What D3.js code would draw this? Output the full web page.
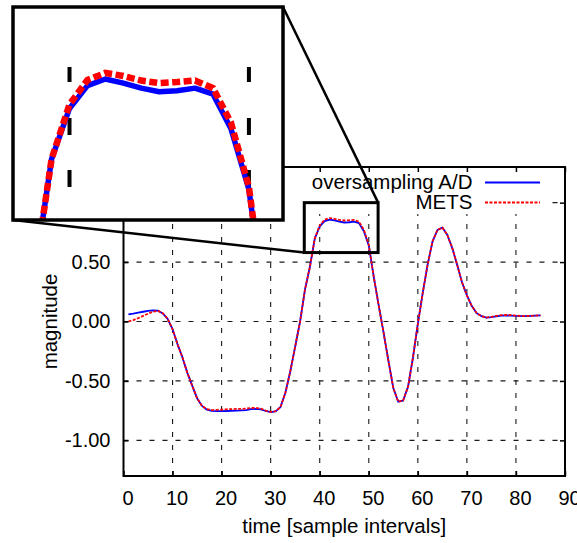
<!DOCTYPE html>
<html>
<head>
<meta charset="utf-8">
<script src="https://cdn.jsdelivr.net/npm/d3@7"></script>
<style>
  html, body { margin: 0; padding: 0; background: #fff; }
  svg { display: block; font-family: "Liberation Sans", Arial, Helvetica, sans-serif; }
</style>
</head>
<body>
<svg id="chart" width="577" height="543"></svg>
<script>
// ---- data ---------------------------------------------------------------
const samples = [
   1,  2,  3,  4,  5,  6,  7,  8,  9, 10, 11, 12, 13, 14, 15, 16, 17,
  18, 19, 20, 21, 22, 23, 24, 25, 26, 27, 28, 29, 30, 31, 32, 33, 34,
  35, 36, 37, 38, 39, 40, 41, 42, 43, 44, 45, 46, 47, 48, 49, 50, 51,
  52, 53, 54, 55, 56, 57, 58, 59, 60, 61, 62, 63, 64, 65, 66, 67, 68,
  69, 70, 71, 72, 73, 74, 75, 76, 77, 78, 79, 80, 81, 82, 83, 84, 85
];

// oversampling A/D reconstruction
const adc = [
  0.060, 0.066, 0.074, 0.082, 0.089, 0.094, 0.092, 0.068, 0.022, -0.065,
  -0.190, -0.300, -0.430, -0.540, -0.645, -0.710, -0.742, -0.752, -0.754, -0.754,
  -0.753, -0.752, -0.750, -0.748, -0.745, -0.738, -0.735, -0.740, -0.753, -0.763,
  -0.756, -0.720, -0.600, -0.420, -0.210, 0.000, 0.270, 0.460, 0.700, 0.800,
  0.845, 0.858, 0.850, 0.840, 0.833, 0.835, 0.840, 0.828, 0.760, 0.640,
  0.380, 0.140, -0.090, -0.330, -0.560, -0.675, -0.665, -0.550, -0.305, -0.020,
  0.240, 0.480, 0.675, 0.770, 0.790, 0.730, 0.620, 0.480, 0.330, 0.220,
  0.130, 0.070, 0.045, 0.032, 0.036, 0.044, 0.049, 0.051, 0.050, 0.047,
  0.045, 0.046, 0.048, 0.050, 0.052
];

// METS reconstruction
const mets = [
  0.000, 0.012, 0.028, 0.047, 0.066, 0.082, 0.090, 0.070, 0.023, -0.065,
  -0.190, -0.300, -0.430, -0.540, -0.645, -0.710, -0.738, -0.745, -0.743, -0.741,
  -0.739, -0.737, -0.736, -0.735, -0.733, -0.728, -0.726, -0.734, -0.750, -0.761,
  -0.755, -0.720, -0.600, -0.420, -0.210, 0.000, 0.270, 0.460, 0.700, 0.808,
  0.856, 0.870, 0.864, 0.855, 0.850, 0.852, 0.855, 0.840, 0.772, 0.645,
  0.380, 0.140, -0.090, -0.330, -0.560, -0.675, -0.665, -0.550, -0.305, -0.020,
  0.240, 0.480, 0.675, 0.770, 0.790, 0.730, 0.620, 0.480, 0.330, 0.220,
  0.130, 0.070, 0.045, 0.032, 0.039, 0.048, 0.053, 0.055, 0.054, 0.050,
  0.046, 0.046, 0.048, 0.050, 0.052
];

const seriesNames = ["oversampling A/D", "METS"];
const xTicks = [0, 10, 20, 30, 40, 50, 60, 70, 80, 90];
const yTicks = [-1.0, -0.5, 0.0, 0.5, 1.0];
const xDomain = [0, 90];
const yDomain = [-1.3, 1.3];
// magnified window
const zoomX = [36.85, 51.9];
const zoomY = [0.58, 1.0];
const zoomGrid = [40, 50];

const xLabel = "time [sample intervals]";
const yLabel = "magnitude";

// ---- layout -------------------------------------------------------------
const W = 577, H = 543;
const plot = { left: 123.5, right: 565, top: 167, bottom: 476 };
const inset = { left: 13, right: 283, top: 7, bottom: 220 };
const BLUE = "#0000ff", RED = "#ff0000";
const FONT = 20, TITLE_FONT = 20.5;

const svg = d3.select("#chart");

const x = d3.scaleLinear().domain(xDomain).range([plot.left, plot.right]);
const y = d3.scaleLinear().domain(yDomain).range([plot.bottom, plot.top]);

const rows = samples.map((s, i) => ({ s, a: adc[i], m: mets[i] }));

// ---- grid ---------------------------------------------------------------
const grid = svg.append("g")
  .attr("stroke", "#1a1a1a").attr("stroke-width", 1.1)
  .attr("stroke-dasharray", "5,8").attr("fill", "none");

grid.selectAll("line.gx")
  .data(xTicks.filter(d => d > xDomain[0] && d < xDomain[1]))
  .join("line").attr("class", "gx")
  .attr("x1", d => x(d)).attr("x2", d => x(d))
  .attr("y1", plot.bottom).attr("y2", plot.top);

grid.selectAll("line.gy")
  .data(yTicks)
  .join("line").attr("class", "gy")
  .attr("y1", d => y(d)).attr("y2", d => y(d))
  .attr("x1", plot.left).attr("x2", plot.right);

// ---- curves -------------------------------------------------------------
const lineA = d3.line().x(d => x(d.s)).y(d => y(d.a));
const lineM = d3.line().x(d => x(d.s)).y(d => y(d.m));

svg.append("path").datum(rows)
  .attr("d", lineA).attr("fill", "none")
  .attr("stroke", BLUE).attr("stroke-width", 1.8)
  .attr("stroke-linejoin", "round");

svg.append("path").datum(rows)
  .attr("d", lineM).attr("fill", "none")
  .attr("stroke", RED).attr("stroke-width", 1.8)
  .attr("stroke-dasharray", "3,1.5");

// ---- key ----------------------------------------------------------------
const key = svg.append("g");
key.append("rect")
  .attr("x", 282).attr("y", 171).attr("width", 263).attr("height", 43)
  .attr("fill", "#fff");

const keyRows = [
  { name: seriesNames[0], color: BLUE, dash: null },
  { name: seriesNames[1], color: RED, dash: "3,1.5" }
];
keyRows.forEach((k, i) => {
  const base = 189 + i * 20;
  key.append("text")
    .attr("x", 472.5).attr("y", base)
    .attr("text-anchor", "end").attr("font-size", TITLE_FONT).attr("fill", "#000")
    .text(k.name);
  key.append("line")
    .attr("x1", 485).attr("x2", 540)
    .attr("y1", base - 6.5).attr("y2", base - 6.5)
    .attr("stroke", k.color).attr("stroke-width", 1.8)
    .attr("stroke-dasharray", k.dash);
});

// ---- axes and border ----------------------------------------------------
const axisG = svg.append("g");

const xAxis = axisG.append("g")
  .attr("transform", `translate(0,${plot.bottom})`)
  .call(d3.axisBottom(x).tickValues(xTicks).tickSize(-5).tickSizeOuter(0)
    .tickPadding(15).tickFormat(d => String(d)));
axisG.append("g")
  .attr("transform", `translate(0,${plot.top})`)
  .call(d3.axisTop(x).tickValues(xTicks).tickSize(-5).tickSizeOuter(0).tickFormat(""));
axisG.append("g")
  .attr("transform", `translate(${plot.left},0)`)
  .call(d3.axisLeft(y).tickValues(yTicks).tickSize(-5).tickSizeOuter(0)
    .tickPadding(13).tickFormat(d => d.toFixed(2)));
axisG.append("g")
  .attr("transform", `translate(${plot.right},0)`)
  .call(d3.axisRight(y).tickValues(yTicks).tickSize(-5).tickSizeOuter(0).tickFormat(""));

axisG.selectAll(".domain").remove();
axisG.selectAll(".tick line").attr("stroke", "#000").attr("stroke-width", 1.5);
axisG.selectAll(".tick text")
  .attr("font-family", "Liberation Sans, Arial, sans-serif")
  .attr("font-size", FONT).attr("fill", "#000");
xAxis.selectAll(".tick text").attr("dx", 4);

axisG.append("rect")
  .attr("x", plot.left).attr("y", plot.top)
  .attr("width", plot.right - plot.left).attr("height", plot.bottom - plot.top)
  .attr("fill", "none").attr("stroke", "#000").attr("stroke-width", 2);

// axis titles
svg.append("text")
  .attr("x", (plot.left + plot.right) / 2).attr("y", 533)
  .attr("text-anchor", "middle").attr("font-size", TITLE_FONT).attr("fill", "#000")
  .text(xLabel);
svg.append("text")
  .attr("transform", `translate(57,${(plot.top + plot.bottom) / 2}) rotate(-90)`)
  .attr("text-anchor", "middle").attr("font-size", TITLE_FONT).attr("fill", "#000")
  .text(yLabel);

// ---- magnified window ---------------------------------------------------
const zx0 = x(zoomX[0]), zx1 = x(zoomX[1]);
const zy0 = y(zoomY[1]), zy1 = y(zoomY[0]);

svg.append("rect")
  .attr("x", zx0).attr("y", zy0).attr("width", zx1 - zx0).attr("height", zy1 - zy0)
  .attr("fill", "none").attr("stroke", "#000").attr("stroke-width", 3);

// connectors from the inset to the window
const connectors = [
  [[inset.right, inset.top], [zx1, zy0]],
  [[inset.left, inset.bottom], [zx0, zy1]]
];
svg.selectAll("line.conn").data(connectors).join("line").attr("class", "conn")
  .attr("x1", d => d[0][0]).attr("y1", d => d[0][1])
  .attr("x2", d => d[1][0]).attr("y2", d => d[1][1])
  .attr("stroke", "#000").attr("stroke-width", 2.5);

// inset
const ix = d3.scaleLinear().domain(zoomX).range([inset.left, inset.right]);
const iy = d3.scaleLinear().domain(zoomY).range([inset.bottom, inset.top]);

svg.append("defs").append("clipPath").attr("id", "inset-clip")
  .append("rect")
  .attr("x", inset.left).attr("y", inset.top)
  .attr("width", inset.right - inset.left).attr("height", inset.bottom - inset.top);

svg.append("rect")
  .attr("x", inset.left).attr("y", inset.top)
  .attr("width", inset.right - inset.left).attr("height", inset.bottom - inset.top)
  .attr("fill", "#fff");

const ig = svg.append("g").attr("clip-path", "url(#inset-clip)");

ig.selectAll("line.igx").data(zoomGrid).join("line").attr("class", "igx")
  .attr("x1", d => ix(d)).attr("x2", d => ix(d))
  .attr("y1", inset.top).attr("y2", inset.bottom)
  .attr("stroke", "#000").attr("stroke-width", 4)
  .attr("stroke-dasharray", "0,60,15,36,17,35,17,200");

ig.append("path").datum(rows)
  .attr("d", d3.line().x(d => ix(d.s)).y(d => iy(d.a)))
  .attr("fill", "none").attr("stroke", BLUE).attr("stroke-width", 5.5)
  .attr("stroke-linejoin", "round");

ig.append("path").datum(rows)
  .attr("d", d3.line().x(d => ix(d.s)).y(d => iy(d.m)))
  .attr("fill", "none").attr("stroke", RED).attr("stroke-width", 6.5)
  .attr("stroke-dasharray", "8,3.5");

svg.append("rect")
  .attr("x", inset.left).attr("y", inset.top)
  .attr("width", inset.right - inset.left).attr("height", inset.bottom - inset.top)
  .attr("fill", "none").attr("stroke", "#000").attr("stroke-width", 3.5);
</script>
</body>
</html>
